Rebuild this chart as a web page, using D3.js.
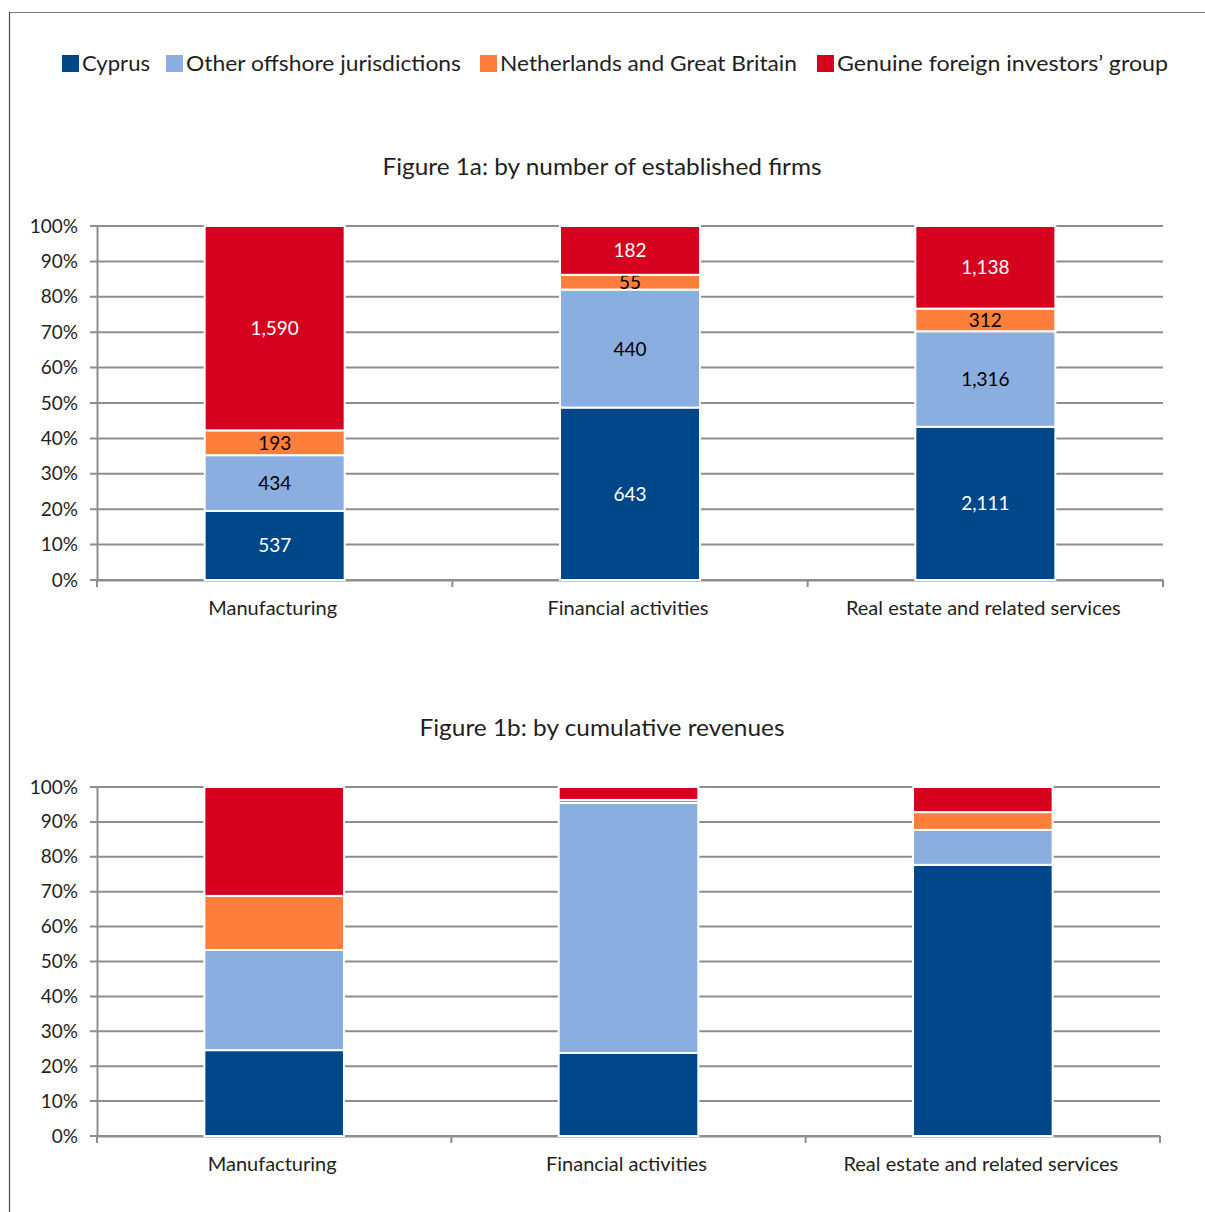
<!DOCTYPE html>
<html>
<head>
<meta charset="utf-8">
<script src="https://cdn.jsdelivr.net/npm/d3@7"></script>
<style>
  body { margin: 0; background: #fff; }
  text { font-family: Lato, "Open Sans", sans-serif; fill: #231f20; }
</style>
</head>
<body>
<div id="chart"></div>
<script>
"use strict";

// categories and series
var sectors = ["Manufacturing", "Financial activities", "Real estate and related services"];
var groups = ["Cyprus", "Other offshore jurisdictions", "Netherlands and Great Britain", "Genuine foreign investors\u2019 group"];
var colors = ["#00478a", "#8aaee0", "#fd7f3b", "#d6001f"];

// Figure 1a: number of firms (per sector, per group)
var firmsCyprus = [537, 643, 2111];
var firmsOffshore = [434, 440, 1316];
var firmsNLGB = [193, 55, 312];
var firmsGenuine = [1590, 182, 1138];

// Figure 1b: share of cumulative revenues, %
var revCyprus = [24.6, 23.8, 77.7];
var revOffshore = [28.7, 71.6, 10.0];
var revNLGB = [15.5, 0.9, 5.1];
var revGenuine = [31.2, 3.7, 7.2];

var yTicks = [0, 0.1, 0.2, 0.3, 0.4, 0.5, 0.6, 0.7, 0.8, 0.9, 1];

var width = 1205, height = 1212;
var svg = d3.select("#chart").append("svg")
  .attr("width", width).attr("height", height);

// frame
svg.append("line").attr("x1", 9.5).attr("x2", width).attr("y1", 12.5).attr("y2", 12.5)
  .attr("stroke", "#7a7a7a").attr("stroke-width", 1.2);
svg.append("line").attr("x1", 9.5).attr("x2", 9.5).attr("y1", 12).attr("y2", height)
  .attr("stroke", "#444").attr("stroke-width", 1.2);

// legend
var legendX = [62, 166, 480, 817];
var legendW = [68, 275, 297, 331];
var legend = svg.append("g");
groups.forEach(function(g, i) {
  legend.append("rect").attr("x", legendX[i]).attr("y", 55).attr("width", 17).attr("height", 17)
    .attr("fill", colors[i]);
  legend.append("text").attr("x", legendX[i] + 20).attr("y", 71)
    .attr("font-size", 22).attr("textLength", legendW[i]).attr("lengthAdjust", "spacingAndGlyphs")
    .text(g);
});

function drawChart(opts) {
  var rows = sectors.map(function(s, i) {
    var vals = opts.series.map(function(a) { return a[i]; });
    var total = d3.sum(vals);
    var o = { sector: s };
    groups.forEach(function(g, j) { o[g] = vals[j] / total; o["v" + j] = vals[j]; });
    return o;
  });
  var stack = d3.stack().keys(groups)(rows);

  var x = d3.scaleBand().domain(sectors).range([opts.left, opts.right]).padding(0);
  var y = d3.scaleLinear().domain([0, 1]).range([opts.bottom, opts.top]);
  var barW = x.bandwidth() * 0.394;

  var g = svg.append("g");

  g.append("text").attr("x", 602).attr("y", opts.titleY)
    .attr("text-anchor", "middle").attr("font-size", 24)
    .attr("textLength", opts.titleW).attr("lengthAdjust", "spacingAndGlyphs")
    .text(opts.title);

  // gridlines
  g.selectAll("line.grid").data(yTicks).enter().append("line")
    .attr("x1", opts.left - 7).attr("x2", opts.right)
    .attr("y1", function(d) { return y(d); }).attr("y2", function(d) { return y(d); })
    .attr("stroke", "#8e8e8e").attr("stroke-width", 2);

  // y axis
  var yAxis = d3.axisLeft(y).tickValues(yTicks).tickFormat(d3.format(".0%")).tickSize(0).tickPadding(19);
  var ya = g.append("g").attr("transform", "translate(" + opts.left + ",0)").call(yAxis);
  ya.select(".domain").attr("stroke", "#8e8e8e").attr("stroke-width", 2);
  ya.selectAll("text").attr("font-size", 19).attr("fill", "#231f20")
    .style("font-family", "Lato, 'Open Sans', sans-serif");

  // x axis
  var xAxis = d3.axisBottom(x).tickSize(0).tickPadding(21);
  var xa = g.append("g").attr("transform", "translate(0," + opts.bottom + ")").call(xAxis);
  xa.select(".domain").attr("stroke", "#8e8e8e").attr("stroke-width", 2);
  xa.selectAll("text").attr("font-size", 20).attr("fill", "#231f20").attr("dx", -2)
    .style("font-family", "Lato, 'Open Sans', sans-serif");
  var bounds = sectors.map(function(s) { return x(s); }).concat([opts.right]);
  g.selectAll("line.xtick").data(bounds).enter().append("line")
    .attr("x1", function(d) { return d; }).attr("x2", function(d) { return d; })
    .attr("y1", opts.bottom).attr("y2", opts.bottom + 7)
    .attr("stroke", "#8e8e8e").attr("stroke-width", 2);

  // bars
  stack.forEach(function(layer, j) {
    var lg = g.append("g");
    lg.selectAll("rect").data(layer).enter().append("rect")
      .attr("x", function(d) { return x(d.data.sector) + (x.bandwidth() - barW) / 2; })
      .attr("width", barW)
      .attr("y", function(d) { return y(d[1]); })
      .attr("height", function(d) { return y(d[0]) - y(d[1]); })
      .attr("fill", colors[j]).attr("stroke", "#fff").attr("stroke-width", 2);
    if (opts.labels) {
      lg.selectAll("text").data(layer).enter().append("text")
        .attr("x", function(d) { return x(d.data.sector) + x.bandwidth() / 2; })
        .attr("y", function(d) { return (y(d[0]) + y(d[1])) / 2 + 7; })
        .attr("text-anchor", "middle").attr("font-size", 19)
        .style("fill", (j === 0 || j === 3) ? "#fff" : "#000")
        .text(function(d) { return d3.format(",")(d.data["v" + j]); });
    }
  });
}

drawChart({
  title: "Figure 1a: by number of established firms",
  titleY: 175, titleW: 439,
  series: [firmsCyprus, firmsOffshore, firmsNLGB, firmsGenuine],
  left: 97, right: 1163, top: 226, bottom: 580, labels: true
});

drawChart({
  title: "Figure 1b: by cumulative revenues",
  titleY: 736, titleW: 365,
  series: [revCyprus, revOffshore, revNLGB, revGenuine],
  left: 97, right: 1160, top: 787, bottom: 1136, labels: false
});
</script>
</body>
</html>
